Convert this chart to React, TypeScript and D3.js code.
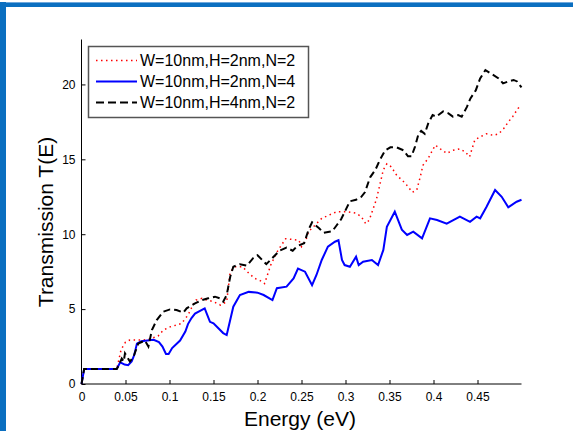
import React, { useEffect, useRef } from 'react'
import * as d3 from 'd3'

// tick labels and legend text
const xTicks = [0, 0.05, 0.1, 0.15, 0.2, 0.25, 0.3, 0.35, 0.4, 0.45]
const yTicks = [0, 5, 10, 15, 20]
const seriesNames = ['W=10nm,H=2nm,N=2', 'W=10nm,H=2nm,N=4', 'W=10nm,H=4nm,N=2']

// [energy (eV), transmission]
const redPoints = [
  [0, 0], [0.003, 1], [0.02, 1], [0.04, 1], [0.042, 1.5], [0.045, 2.3], [0.05, 2.8], [0.055, 2.94],
  [0.065, 2.94], [0.075, 2.95], [0.08, 3.05], [0.087, 3.2], [0.093, 3.6], [0.1, 3.8], [0.108, 3.94],
  [0.114, 4.05], [0.117, 4.3], [0.121, 4.6], [0.126, 5.2], [0.13, 5.6], [0.137, 5.72], [0.143, 5.6],
  [0.15, 5.5], [0.158, 5.27], [0.165, 5.5], [0.169, 7.5], [0.175, 7.83], [0.183, 7.83], [0.19, 7.4],
  [0.197, 7.05], [0.203, 6.9], [0.208, 6.7], [0.215, 7.94], [0.222, 8.8], [0.232, 9.7], [0.247, 9.6],
  [0.25, 9.17], [0.255, 9.6], [0.258, 10.17], [0.273, 11.06], [0.29, 11.5], [0.302, 11.5], [0.312, 11.4],
  [0.318, 11.17], [0.323, 10.7], [0.327, 10.95], [0.335, 12.3], [0.343, 14.3], [0.347, 14.7], [0.352, 14.5],
  [0.358, 13.95], [0.368, 13.4], [0.376, 12.8], [0.381, 12.95], [0.385, 13.84], [0.388, 14.6], [0.394, 15.07],
  [0.402, 15.95], [0.41, 15.6], [0.415, 15.4], [0.422, 15.6], [0.43, 15.7], [0.436, 15.5], [0.441, 15.17],
  [0.447, 16.3], [0.453, 16.5], [0.46, 16.7], [0.468, 16.6], [0.474, 16.7], [0.48, 17.07], [0.485, 17.5],
  [0.49, 17.85], [0.496, 18.4], [0.5, 18.6],
]

const bluePoints = [
  [0, 0], [0.003, 1], [0.02, 1], [0.04, 1], [0.044, 1.45], [0.049, 1.3], [0.053, 1.25], [0.057, 1.5],
  [0.06, 1.95], [0.063, 2.7], [0.068, 2.85], [0.075, 2.9], [0.082, 2.95], [0.088, 2.8], [0.092, 2.5],
  [0.096, 2.0], [0.099, 2.0], [0.103, 2.4], [0.112, 2.9], [0.118, 3.5], [0.121, 4.0], [0.125, 4.4],
  [0.129, 4.7], [0.14, 5.05], [0.143, 4.6], [0.146, 4.15], [0.15, 4.05], [0.161, 3.4], [0.165, 3.27],
  [0.1725, 5.16], [0.18, 5.94], [0.19, 6.15], [0.2, 6.1], [0.207, 5.94], [0.217, 5.6], [0.222, 6.4],
  [0.233, 6.5], [0.241, 7.05], [0.246, 7.7], [0.254, 7.5], [0.262, 6.6], [0.267, 7.28], [0.273, 8.28],
  [0.28, 9.17], [0.288, 9.5], [0.292, 9.6], [0.296, 8.28], [0.299, 7.94], [0.305, 7.83], [0.312, 8.5],
  [0.315, 7.94], [0.32, 8.16], [0.33, 8.28], [0.337, 7.94], [0.343, 8.95], [0.347, 10.5], [0.356, 11.5],
  [0.364, 10.3], [0.37, 9.95], [0.377, 10.17], [0.387, 9.72], [0.396, 11.06], [0.404, 10.95], [0.415, 10.7],
  [0.43, 11.17], [0.4415, 10.83], [0.449, 11.17], [0.453, 11.06], [0.46, 11.8], [0.47, 12.95], [0.4775, 12.5],
  [0.485, 11.8], [0.4945, 12.17], [0.5, 12.3],
]

const blackPoints = [
  [0, 0], [0.003, 1], [0.02, 1], [0.04, 1], [0.042, 1.2], [0.0457, 1.7], [0.048, 1.5], [0.0494, 2.05],
  [0.055, 1.5], [0.059, 1.8], [0.0645, 2.7], [0.072, 2.9], [0.076, 2.5], [0.08, 3.6], [0.0855, 4.27],
  [0.093, 4.83], [0.1006, 4.98], [0.108, 4.94], [0.1157, 4.76], [0.1195, 5.05], [0.129, 5.38], [0.1366, 5.6],
  [0.144, 5.72], [0.1517, 5.83], [0.157, 5.72], [0.161, 5.5], [0.165, 5.94], [0.169, 7.16], [0.1725, 7.83],
  [0.18, 8.0], [0.188, 7.9], [0.195, 8.4], [0.2, 8.6], [0.205, 8.3], [0.21, 8.0], [0.215, 8.3], [0.22, 8.6],
  [0.225, 8.9], [0.233, 9.1], [0.24, 8.9], [0.245, 9.2], [0.253, 9.4], [0.258, 10.3], [0.262, 10.8],
  [0.27, 10.4], [0.275, 10.1], [0.285, 10.2], [0.29, 10.6], [0.295, 11.0], [0.305, 12.2], [0.312, 12.3],
  [0.318, 12.5], [0.322, 12.8], [0.328, 13.8], [0.334, 14.3], [0.339, 14.95], [0.345, 15.6], [0.351, 15.8],
  [0.358, 15.8], [0.366, 15.6], [0.371, 15.2], [0.375, 15.2], [0.379, 15.85], [0.383, 16.7], [0.386, 16.9],
  [0.39, 16.7], [0.394, 17.4], [0.399, 17.95], [0.403, 17.85], [0.411, 18.2], [0.417, 18.07], [0.422, 17.85],
  [0.428, 17.95], [0.432, 17.85], [0.438, 18.5], [0.442, 19.07], [0.448, 19.6], [0.453, 20.4], [0.459, 20.96],
  [0.466, 20.7], [0.474, 20.4], [0.479, 20.07], [0.485, 20.2], [0.491, 20.3], [0.495, 20.2], [0.5, 19.8],
]

const w = 573
const h = 431
const font = '"Liberation Sans", Arial, sans-serif'

export default function App() {
  const ref = useRef<SVGSVGElement>(null)

  useEffect(() => {
    const svg = d3.select(ref.current)

    // blue frame (top + left)
    svg.append('rect').attr('x', 0).attr('y', 2).attr('width', w).attr('height', 5).attr('fill', '#0b6fc0')
    svg.append('rect').attr('x', 0).attr('y', 2).attr('width', w).attr('height', 1).attr('fill', '#6fa8dc')
    svg.append('rect').attr('x', 0).attr('y', 2).attr('width', 6).attr('height', h).attr('fill', '#0b6fc0')

    const x = d3.scaleLinear().domain([0, 0.5]).range([81.5, 521.5])
    const y = d3.scaleLinear().domain([0, 23]).range([384, 39.5])

    const g = svg.append('g')

    // x axis, ticks inward
    const gX = g.append('g')
      .attr('transform', `translate(0, ${y(0)})`)
      .call(d3.axisBottom(x).tickValues(xTicks).tickSize(-4).tickPadding(8).tickFormat((d: any) => String(d)))
    gX.select('.domain').attr('d', `M${x(0)},0H${x(0.5)}`)
    gX.selectAll('text').attr('font-family', font).attr('font-size', 12).attr('fill', '#000')

    // y axis
    const gY = g.append('g')
      .attr('transform', `translate(${x(0)}, 0)`)
      .call(d3.axisLeft(y).tickValues(yTicks).tickSize(-4).tickPadding(6))
    gY.select('.domain').attr('d', `M0,${y(0)}V${y(23)}`)
    gY.selectAll('text').attr('font-family', font).attr('font-size', 12).attr('fill', '#000')

    const line = d3.line<number[]>()
      .x(d => x(d[0]))
      .y(d => y(d[1]))

    g.append('path').datum(redPoints).attr('d', line).attr('fill', 'none')
      .attr('stroke', '#ff0000').attr('stroke-width', 1.5).attr('stroke-dasharray', '1.5,3.5')
    g.append('path').datum(bluePoints).attr('d', line).attr('fill', 'none')
      .attr('stroke', '#0000ff').attr('stroke-width', 2)
    g.append('path').datum(blackPoints).attr('d', line).attr('fill', 'none')
      .attr('stroke', '#000').attr('stroke-width', 2).attr('stroke-dasharray', '7,4')

    // axis titles
    svg.append('text').attr('x', 300).attr('y', 426).attr('text-anchor', 'middle')
      .attr('font-family', font).attr('font-size', 21).text('Energy (eV)')
    svg.append('text').attr('transform', 'translate(53, 222) rotate(-90)').attr('text-anchor', 'middle')
      .attr('font-family', font).attr('font-size', 21).text('Transmission T(E)')

    // legend
    const lg = svg.append('g')
    lg.append('rect').attr('x', 88.5).attr('y', 46.5).attr('width', 220).attr('height', 71)
      .attr('fill', '#fff').attr('stroke', '#555').attr('stroke-width', 1.5)
    const styles = [
      { stroke: '#ff0000', width: 1.5, dash: '1.5,3.5' },
      { stroke: '#0000ff', width: 2, dash: null },
      { stroke: '#000', width: 2, dash: '8,4' },
    ]
    seriesNames.forEach((name, i) => {
      const ly = 60.5 + i * 21
      lg.append('line').attr('x1', 96).attr('x2', 137).attr('y1', ly).attr('y2', ly)
        .attr('stroke', styles[i].stroke).attr('stroke-width', styles[i].width)
        .attr('stroke-dasharray', styles[i].dash)
      lg.append('text').attr('x', 140).attr('y', ly + 5.5).attr('font-family', font)
        .attr('font-size', 16).text(name)
    })

    return () => {
      svg.selectAll('*').remove()
    }
  }, [])

  return (
    <svg ref={ref} width={w} height={h} style={{ position: 'absolute', left: 0, top: 0, background: '#fff' }} />
  )
}
